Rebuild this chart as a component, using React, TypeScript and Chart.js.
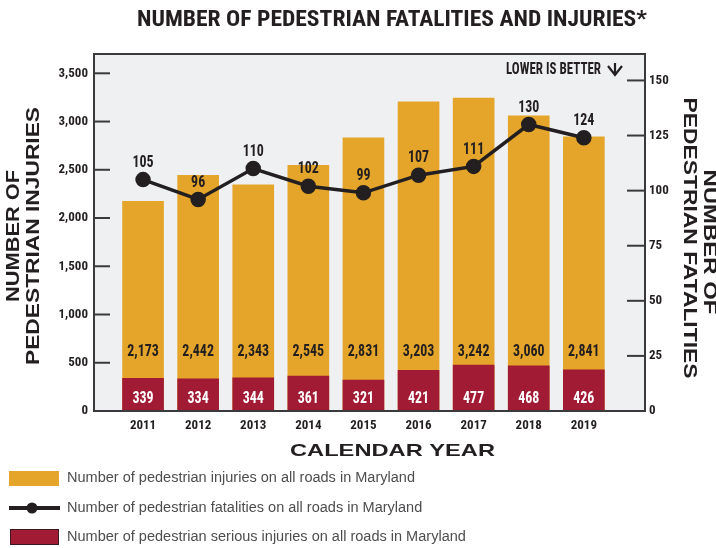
import React, { useEffect, useRef } from "react";
import { Chart, registerables } from "chart.js";

Chart.register(...registerables);

const years = [2011, 2012, 2013, 2014, 2015, 2016, 2017, 2018, 2019];
const injuries = [2173, 2442, 2343, 2545, 2831, 3203, 3242, 3060, 2841];
const seriousInjuries = [339, 334, 344, 361, 321, 421, 477, 468, 426];
const fatalities = [105, 96, 110, 102, 99, 107, 111, 130, 124];
const leftTicks = [0, 500, 1000, 1500, 2000, 2500, 3000, 3500];
const rightTicks = [0, 25, 50, 75, 100, 125, 150];

const TITLE = "NUMBER OF PEDESTRIAN FATALITIES AND INJURIES*";
const X_TITLE = "CALENDAR YEAR";
const LEFT_TITLE = ["NUMBER OF", "PEDESTRIAN INJURIES"];
const RIGHT_TITLE = ["NUMBER OF", "PEDESTRIAN FATALITIES"];
const NOTE = "LOWER IS BETTER";
const LEGEND = [
  "Number of pedestrian injuries on all roads in Maryland",
  "Number of pedestrian fatalities on all roads in Maryland",
  "Number of pedestrian serious injuries on all roads in Maryland",
];

const YELLOW = "#E4A52A";
const RED = "#A11B35";
const DARK = "#231F20";
const BG = "#EFF0F2";
const NARROW = '"Roboto Condensed", "Liberation Sans Narrow", Roboto, sans-serif';
const WIDE = '"Liberation Sans", Arial, sans-serif';
const REGULAR = '"Liberation Sans", Arial, sans-serif';

function fitText(
  ctx: CanvasRenderingContext2D,
  text: string,
  x: number,
  y: number,
  width: number,
  font: string,
  color: string,
  rotation = 0,
  align: CanvasTextAlign = "center"
) {
  ctx.save();
  ctx.translate(x, y);
  ctx.rotate(rotation);
  ctx.font = font;
  const w = ctx.measureText(text).width;
  ctx.scale(width / w, 1);
  ctx.fillStyle = color;
  ctx.textAlign = align;
  ctx.textBaseline = "middle";
  ctx.fillText(text, 0, 0);
  ctx.restore();
}

function condText(
  ctx: CanvasRenderingContext2D,
  text: string,
  x: number,
  y: number,
  font: string,
  color: string,
  sx: number
) {
  ctx.save();
  ctx.translate(x, y);
  ctx.scale(sx, 1);
  ctx.font = font;
  ctx.fillStyle = color;
  ctx.textAlign = "center";
  ctx.textBaseline = "middle";
  ctx.fillText(text, 0, 0);
  ctx.restore();
}

const fmt = (v: number) => v.toLocaleString("en-US");

const decor = {
  id: "decor",
  beforeDraw(chart: any) {
    const { ctx, chartArea: a } = chart;
    ctx.save();
    ctx.fillStyle = BG;
    ctx.fillRect(a.left, a.top, a.right - a.left, a.bottom - a.top);
    ctx.restore();
  },
  afterDatasetsDraw(chart: any) {
    const { ctx, chartArea: a, scales } = chart;
    ctx.save();
    ctx.strokeStyle = "#3A3A3C";
    ctx.lineWidth = 2;
    ctx.strokeRect(a.left, a.top, a.right - a.left, a.bottom - a.top);
    leftTicks.forEach((v) => {
      const y = scales.y.getPixelForValue(v);
      ctx.beginPath();
      ctx.moveTo(a.left, y);
      ctx.lineTo(a.left + 16, y);
      ctx.stroke();
    });
    rightTicks.forEach((v) => {
      const y = scales.y1.getPixelForValue(v);
      ctx.beginPath();
      ctx.moveTo(a.right - 18, y);
      ctx.lineTo(a.right, y);
      ctx.stroke();
    });
    ctx.restore();
    const labelFont = `bold 17px ${NARROW}`;
    years.forEach((yr, i) => {
      const x = scales.x.getPixelForValue(yr);
      condText(ctx, fmt(injuries[i]), x, a.bottom - 59, labelFont, DARK, 0.82);
      condText(ctx, fmt(seriousInjuries[i]), x, a.bottom - 12, labelFont, "#FFFFFF", 0.82);
    });
    const lineMeta = chart.getDatasetMeta(2);
    lineMeta.data.forEach((pt: any, i: number) => {
      condText(ctx, String(fatalities[i]), pt.x, pt.y - 17, labelFont, DARK, 0.82);
    });
  },
  afterDraw(chart: any) {
    const { ctx } = chart;
    fitText(ctx, TITLE, 392, 20, 510, `bold 22px ${NARROW}`, DARK);
    fitText(ctx, LEFT_TITLE[0], 14, 236, 132, `bold 19px ${WIDE}`, DARK, -Math.PI / 2);
    fitText(ctx, LEFT_TITLE[1], 34, 236, 258, `bold 19px ${WIDE}`, DARK, -Math.PI / 2);
    fitText(ctx, RIGHT_TITLE[0], 708.5, 242, 145, `bold 18px ${WIDE}`, DARK, Math.PI / 2);
    fitText(ctx, RIGHT_TITLE[1], 688.5, 238, 281, `bold 18px ${WIDE}`, DARK, Math.PI / 2);
    fitText(ctx, X_TITLE, 392.5, 451, 205, `bold 17px ${WIDE}`, DARK);
    fitText(ctx, NOTE, 553.5, 70, 95, `bold 16px ${NARROW}`, DARK);
    ctx.save();
    ctx.strokeStyle = DARK;
    ctx.lineWidth = 2.2;
    ctx.beginPath();
    ctx.moveTo(608, 66);
    ctx.lineTo(615, 75);
    ctx.lineTo(622, 66);
    ctx.moveTo(615, 63);
    ctx.lineTo(615, 75);
    ctx.stroke();
    ctx.restore();
    // legend
    ctx.save();
    ctx.fillStyle = YELLOW;
    ctx.fillRect(9, 471, 50, 15);
    ctx.strokeStyle = DARK;
    ctx.lineWidth = 4;
    ctx.beginPath();
    ctx.moveTo(9, 508);
    ctx.lineTo(60, 508);
    ctx.stroke();
    ctx.fillStyle = DARK;
    ctx.beginPath();
    ctx.arc(32, 508, 5.5, 0, Math.PI * 2);
    ctx.fill();
    ctx.fillStyle = RED;
    ctx.fillRect(10, 529, 49, 16);
    ctx.strokeStyle = "#3A1A20";
    ctx.lineWidth = 1;
    ctx.strokeRect(10.5, 529.5, 48, 15);
    ctx.font = `14px ${REGULAR}`;
    const w0 = ctx.measureText(LEGEND[0]).width;
    const widths = LEGEND.map((t) => ctx.measureText(t).width);
    ctx.restore();
    const s = 348 / w0;
    const legendY = [478, 508, 537];
    LEGEND.forEach((t, i) => {
      fitText(ctx, t, 67, legendY[i], widths[i] * s, `14px ${REGULAR}`, "#4D4D4F", 0, "left");
    });
  },
};

export default function App() {
  const ref = useRef<HTMLCanvasElement | null>(null);
  useEffect(() => {
    if (!ref.current) return;
    const tickFont = { family: NARROW, size: 13, weight: "bold" as const };
    const chart = new Chart(ref.current, {
      type: "bar",
      data: {
        datasets: [
          {
            type: "bar",
            label: LEGEND[0],
            data: years.map((x, i) => ({ x, y: injuries[i] })),
            backgroundColor: YELLOW,
            barThickness: 41,
            grouped: false,
            yAxisID: "y",
            order: 3,
          } as any,
          {
            type: "bar",
            label: LEGEND[2],
            data: years.map((x, i) => ({ x, y: seriousInjuries[i] })),
            backgroundColor: RED,
            barThickness: 41,
            grouped: false,
            yAxisID: "y",
            order: 2,
          } as any,
          {
            type: "line",
            label: LEGEND[1],
            data: years.map((x, i) => ({ x, y: fatalities[i] })),
            borderColor: DARK,
            backgroundColor: DARK,
            borderWidth: 3.5,
            pointRadius: 6,
            pointHoverRadius: 6,
            yAxisID: "y1",
            order: 1,
          } as any,
        ],
      },
      options: {
        animation: false,
        responsive: true,
        maintainAspectRatio: false,
        layout: { padding: { top: 54, left: 0, right: 0, bottom: 0 } },
        plugins: {
          legend: { display: false },
          tooltip: { enabled: false },
          title: { display: false },
        },
        scales: {
          x: {
            type: "linear",
            offset: false,
            min: 2010.11,
            max: 2020.11,
            grid: { display: false, drawTicks: false },
            border: { display: false },
            afterBuildTicks: (s: any) => {
              s.ticks = years.map((v) => ({ value: v }));
            },
            afterFit: (s: any) => {
              s.height = 137;
            },
            ticks: {
              padding: 7,
              color: DARK,
              font: tickFont,
              maxRotation: 0,
              callback: (v: any) => String(v),
            },
          },
          y: {
            type: "linear",
            position: "left",
            min: 0,
            max: 3700,
            grid: { display: false, drawTicks: false },
            border: { display: false },
            afterBuildTicks: (s: any) => {
              s.ticks = leftTicks.map((v) => ({ value: v }));
            },
            afterFit: (s: any) => {
              s.width = 94;
            },
            ticks: {
              padding: 6,
              color: DARK,
              font: tickFont,
              callback: (v: any) => fmt(Number(v)),
            },
          },
          y1: {
            type: "linear",
            position: "right",
            min: 0,
            max: 162,
            grid: { display: false, drawTicks: false },
            border: { display: false },
            afterBuildTicks: (s: any) => {
              s.ticks = rightTicks.map((v) => ({ value: v }));
            },
            afterFit: (s: any) => {
              s.width = 71;
            },
            ticks: {
              padding: 4,
              color: DARK,
              font: tickFont,
              callback: (v: any) => String(v),
            },
          },
        },
      } as any,
      plugins: [decor],
    });
    return () => chart.destroy();
  }, []);
  return (
    <div style={{ position: "fixed", left: 0, top: 0, width: 716, height: 548, background: "#fff" }}>
      <canvas ref={ref} />
    </div>
  );
}
